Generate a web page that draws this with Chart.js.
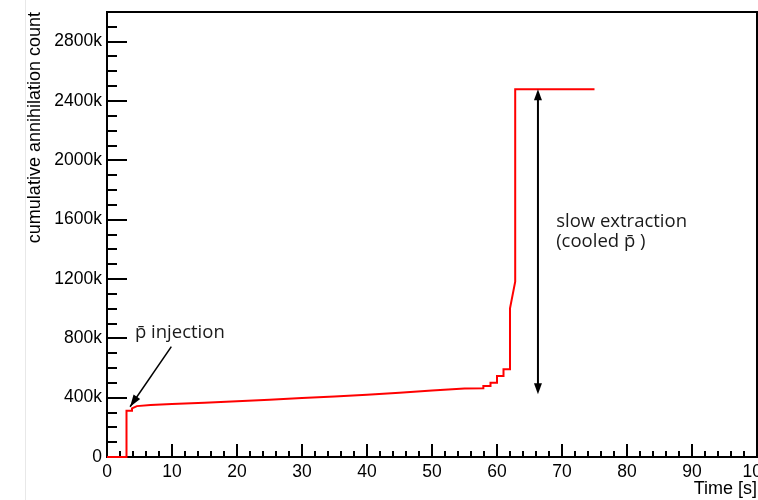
<!DOCTYPE html>
<html>
<head>
<meta charset="utf-8">
<script src="https://cdn.jsdelivr.net/npm/chart.js@4/dist/chart.umd.min.js"></script>
<style>
  html, body { margin: 0; padding: 0; background: #fff; }
  #wrap { position: relative; width: 758px; height: 500px; }
</style>
</head>
<body>
<div id="wrap"><canvas id="c" width="758" height="500"></canvas></div>
<script>
// Cumulative annihilation count vs time (counts in thousands)
const timeS = [0, 3.0, 3.0, 3.85, 3.85, 4.6, 6.7, 10, 15, 20, 25, 30, 35, 40, 45, 50, 55,
               57.9, 57.9, 59.0, 59.0, 60.0, 60.0, 61.0, 61.0, 62.0, 62.0, 62.8, 62.8, 75.0];
const countK = [0, 0, 312, 312, 328, 343, 351, 357, 366, 376, 386, 397, 408, 420, 433, 448, 461,
                463, 479, 479, 501, 501, 546, 546, 591, 591, 1002, 1182, 2480, 2480];

// Axis ranges and tick spacing
const xRange = [0, 100];
const yRangeK = [0, 3000];
const xMajor = 10, xMinor = 2;
const yMajor = 400, yMinor = 100;

const xTitle = 'Time [s]';
const yTitle = 'cumulative annihilation count';

// Annotations, anchored in data coordinates (s, thousands)
const injectionLabel = 'p\u0304 injection';
const extractionLabel = ['slow extraction', '(cooled p\u0304 )'];

const points = timeS.map((t, i) => ({ x: t, y: countK[i] }));

function arrowHead(ctx, x1, y1, x2, y2, len, half) {
  const ang = Math.atan2(y2 - y1, x2 - x1);
  ctx.beginPath();
  ctx.moveTo(x2, y2);
  ctx.lineTo(x2 - len * Math.cos(ang) + half * Math.sin(ang), y2 - len * Math.sin(ang) - half * Math.cos(ang));
  ctx.lineTo(x2 - len * Math.cos(ang) - half * Math.sin(ang), y2 - len * Math.sin(ang) + half * Math.cos(ang));
  ctx.closePath();
  ctx.fill();
}

const framePlugin = {
  id: 'frameTicks',
  beforeDraw(chart) {
    const { ctx, height } = chart;
    ctx.save();
    ctx.strokeStyle = '#e8e8e8';
    ctx.lineWidth = 1;
    ctx.beginPath();
    ctx.moveTo(25.5, 0);
    ctx.lineTo(25.5, height);
    ctx.stroke();
    ctx.restore();
  },
  beforeDatasetsDraw(chart) {
    const { ctx, chartArea: a, scales: { x, y } } = chart;
    ctx.save();
    ctx.strokeStyle = '#000';
    ctx.lineWidth = 2;
    ctx.strokeRect(a.left, a.top, a.right - a.left, a.bottom - a.top);
    ctx.beginPath();
    const nY = Math.round((y.max - y.min) / yMinor);
    for (let i = 0; i <= nY; i++) {
      const v = y.min + i * yMinor;
      const py = Math.round(y.getPixelForValue(v));
      const len = (v % yMajor === 0) ? 20 : 10;
      ctx.moveTo(a.left, py);
      ctx.lineTo(a.left + len, py);
    }
    const nX = Math.round((x.max - x.min) / xMinor);
    for (let i = 0; i <= nX; i++) {
      const v = x.min + i * xMinor;
      const px = Math.round(x.getPixelForValue(v));
      const len = (v % xMajor === 0) ? 13 : 6;
      ctx.moveTo(px, a.bottom);
      ctx.lineTo(px, a.bottom - len);
    }
    ctx.stroke();
    ctx.restore();
  },
  afterDatasetsDraw(chart) {
    const { ctx, scales: { x, y } } = chart;
    ctx.save();
    ctx.strokeStyle = '#000';
    ctx.fillStyle = '#000';

    // injection arrow
    ctx.lineWidth = 1.5;
    const ax1 = x.getPixelForValue(9.9), ay1 = y.getPixelForValue(744);
    const ax2 = x.getPixelForValue(3.55), ay2 = y.getPixelForValue(339);
    ctx.beginPath();
    ctx.moveTo(ax1, ay1);
    ctx.lineTo(ax2, ay2);
    ctx.stroke();
    arrowHead(ctx, ax1, ay1, ax2, ay2, 12, 4);

    // double-headed extraction arrow
    ctx.lineWidth = 2;
    const bx = x.getPixelForValue(66.3);
    const byTop = y.getPixelForValue(2480), byBot = y.getPixelForValue(423);
    ctx.beginPath();
    ctx.moveTo(bx, byTop + 6);
    ctx.lineTo(bx, byBot - 6);
    ctx.stroke();
    arrowHead(ctx, bx, byBot, bx, byTop, 11, 4);
    arrowHead(ctx, bx, byTop, bx, byBot, 11, 4);

    // labels
    ctx.fillStyle = '#1a1a1a';
    ctx.font = '18.5px "Open Sans"';
    ctx.textAlign = 'left';
    ctx.textBaseline = 'alphabetic';
    ctx.fillText(injectionLabel, x.getPixelForValue(4.3), y.getPixelForValue(804));
    ctx.fillText(extractionLabel[0], x.getPixelForValue(69.1), y.getPixelForValue(1553));
    ctx.fillText(extractionLabel[1], x.getPixelForValue(69.1), y.getPixelForValue(1414));
    ctx.restore();
  }
};

new Chart(document.getElementById('c'), {
  type: 'scatter',
  data: {
    datasets: [{
      data: points,
      showLine: true,
      borderColor: '#ff0000',
      borderWidth: 2,
      pointRadius: 0,
      pointHoverRadius: 0,
      tension: 0,
      clip: false
    }]
  },
  options: {
    responsive: false,
    devicePixelRatio: 1,
    animation: false,
    events: [],
    layout: { padding: { left: 0, top: 12, right: 1, bottom: 0 } },
    plugins: { legend: { display: false }, tooltip: { enabled: false } },
    scales: {
      x: {
        type: 'linear',
        min: xRange[0], max: xRange[1],
        grid: { display: false, drawTicks: false },
        border: { display: false },
        ticks: {
          stepSize: xMajor,
          color: '#000',
          font: { family: '"Liberation Sans", Arial, sans-serif', size: 17.5 },
          padding: 5,
          maxRotation: 0,
          autoSkip: false,
          includeBounds: false
        },
        title: {
          display: true,
          text: xTitle,
          align: 'end',
          color: '#000',
          font: { family: '"Liberation Sans", Arial, sans-serif', size: 18 },
          padding: { top: 0, bottom: 0 }
        },
        afterFit(s) { s.height = 43; s.paddingLeft = 0; s.paddingRight = 0; }
      },
      y: {
        type: 'linear',
        min: yRangeK[0], max: yRangeK[1],
        grid: { display: false, drawTicks: false },
        border: { display: false },
        ticks: {
          stepSize: yMajor,
          color: '#000',
          font: { family: '"Liberation Sans", Arial, sans-serif', size: 17.5 },
          padding: 5,
          includeBounds: false,
          callback: v => (v === 0 ? '0' : v + 'k')
        },
        title: {
          display: true,
          text: yTitle,
          align: 'end',
          color: '#000',
          font: { family: '"Liberation Sans", Arial, sans-serif', size: 18 },
          padding: { top: 24, bottom: 0 }
        },
        afterFit(s) { s.width = 107; s.paddingTop = 0; s.paddingBottom = 0; }
      }
    }
  },
  plugins: [framePlugin]
});
</script>
</body>
</html>
